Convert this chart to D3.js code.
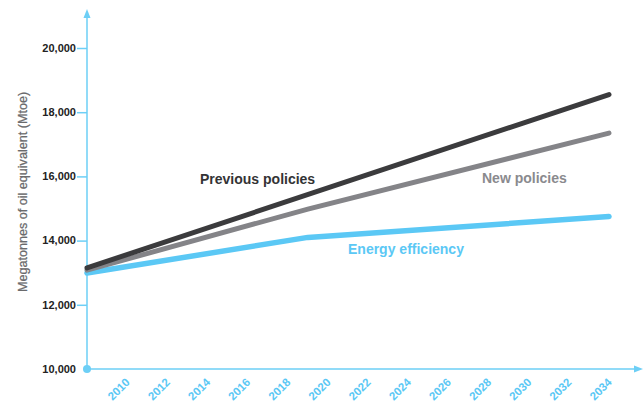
<!DOCTYPE html>
<html>
<head>
<meta charset="utf-8">
<script src="https://cdn.jsdelivr.net/npm/d3@7"></script>
<style>
  html, body { margin: 0; padding: 0; background: #fff; }
  svg { display: block; }
  text { font-family: "Liberation Sans", Arial, Helvetica, sans-serif; }
</style>
</head>
<body>
<svg id="chart" width="644" height="404"></svg>
<script>
// World primary energy demand by scenario (Mtoe)
const prevYears = [2008, 2034];
const prevValues = [13150, 18550];

const newYears = [2008, 2019, 2034];
const newValues = [13080, 14980, 17350];

const effYears = [2008, 2019, 2034];
const effValues = [12990, 14100, 14750];

const yTicks = [10000, 12000, 14000, 16000, 18000, 20000];
const xTicks = [2010, 2012, 2014, 2016, 2018, 2020, 2022, 2024, 2026, 2028, 2030, 2032, 2034];

const seriesNames = ["Previous policies", "New policies", "Energy efficiency"];
const axisTitle = "Megatonnes of oil equivalent (Mtoe)";

const axisColor = "#6dcff6";
const colors = {
  prev: "#3b3b3d",
  next: "#848488",
  eff: "#5bc8f5"
};

const svg = d3.select("#chart");

const x = d3.scaleLinear().domain([2008, 2034]).range([87, 609]);
const y = d3.scaleLinear().domain([10000, 20000]).range([369, 48]);

// Y axis ticks and labels
const yAxis = d3.axisLeft(y)
  .tickValues(yTicks)
  .tickSize(10)
  .tickPadding(1)
  .tickFormat(d3.format(","));

const gy = svg.append("g")
  .attr("transform", "translate(87,0)")
  .call(yAxis);
gy.select(".domain").remove();
gy.selectAll(".tick line")
  .attr("stroke", axisColor)
  .attr("stroke-width", 1.5)
  .attr("opacity", d => d === 10000 ? 0 : 1);
gy.selectAll(".tick text")
  .attr("fill", "#222")
  .attr("font-size", 11)
  .attr("font-weight", "bold")
  .attr("dy", "0.3em");

// X axis labels, rotated
const xAxis = d3.axisBottom(x)
  .tickValues(xTicks)
  .tickSize(0)
  .tickFormat(d3.format("d"));

const gx = svg.append("g")
  .attr("transform", "translate(0,369)")
  .call(xAxis);
gx.select(".domain").remove();
gx.selectAll(".tick text")
  .attr("fill", "#5bc8f5")
  .attr("font-size", 11.5)
  .attr("font-weight", "bold")
  .attr("text-anchor", "end")
  .attr("x", 0)
  .attr("y", 0)
  .attr("dy", 0)
  .attr("transform", "translate(3,14) rotate(-45)");

// Axis lines with arrowheads
svg.append("line")
  .attr("x1", 87).attr("y1", y(10000))
  .attr("x2", 87).attr("y2", 15)
  .attr("stroke", axisColor).attr("stroke-width", 1.5);
svg.append("path")
  .attr("d", "M87,9 L90.5,18 L83.5,18 Z")
  .attr("fill", axisColor);

svg.append("line")
  .attr("x1", 87).attr("y1", y(10000))
  .attr("x2", 637).attr("y2", y(10000))
  .attr("stroke", axisColor).attr("stroke-width", 1.5);
svg.append("path")
  .attr("d", `M643,${y(10000)} L634,${y(10000) - 3.5} L634,${y(10000) + 3.5} Z`)
  .attr("fill", axisColor);

svg.append("circle")
  .attr("cx", 87).attr("cy", y(10000)).attr("r", 4)
  .attr("fill", axisColor);

// Axis title
svg.append("text")
  .attr("transform", `translate(27,${(90 + 294) / 2}) rotate(-90)`)
  .attr("text-anchor", "middle")
  .attr("fill", "#6a6a6c")
  .attr("font-size", 12.6)
  .attr("stroke", "#6a6a6c")
  .attr("stroke-width", 0.25)
  .text(axisTitle);

// Series lines
const line = d3.line()
  .x(d => x(d[0]))
  .y(d => y(d[1]));

const series = [
  { years: effYears, values: effValues, color: colors.eff, width: 5.5 },
  { years: newYears, values: newValues, color: colors.next, width: 5 },
  { years: prevYears, values: prevValues, color: colors.prev, width: 5 }
];

series.forEach(s => {
  svg.append("path")
    .datum(s.years.map((yr, i) => [yr, s.values[i]]))
    .attr("d", line)
    .attr("fill", "none")
    .attr("stroke", s.color)
    .attr("stroke-width", s.width)
    .attr("stroke-linecap", "round")
    .attr("stroke-linejoin", "round");
});

// Series labels
const labels = [
  { text: seriesNames[0], x: 200, y: 184, color: "#333335" },
  { text: seriesNames[1], x: 482, y: 183, color: "#8a8a8e" },
  { text: seriesNames[2], x: 348, y: 254, color: "#5bc8f5" }
];

svg.selectAll("text.series-label")
  .data(labels)
  .enter()
  .append("text")
  .attr("class", "series-label")
  .attr("x", d => d.x)
  .attr("y", d => d.y)
  .attr("fill", d => d.color)
  .attr("font-size", 14)
  .attr("font-weight", "bold")
  .text(d => d.text);
</script>
</body>
</html>
